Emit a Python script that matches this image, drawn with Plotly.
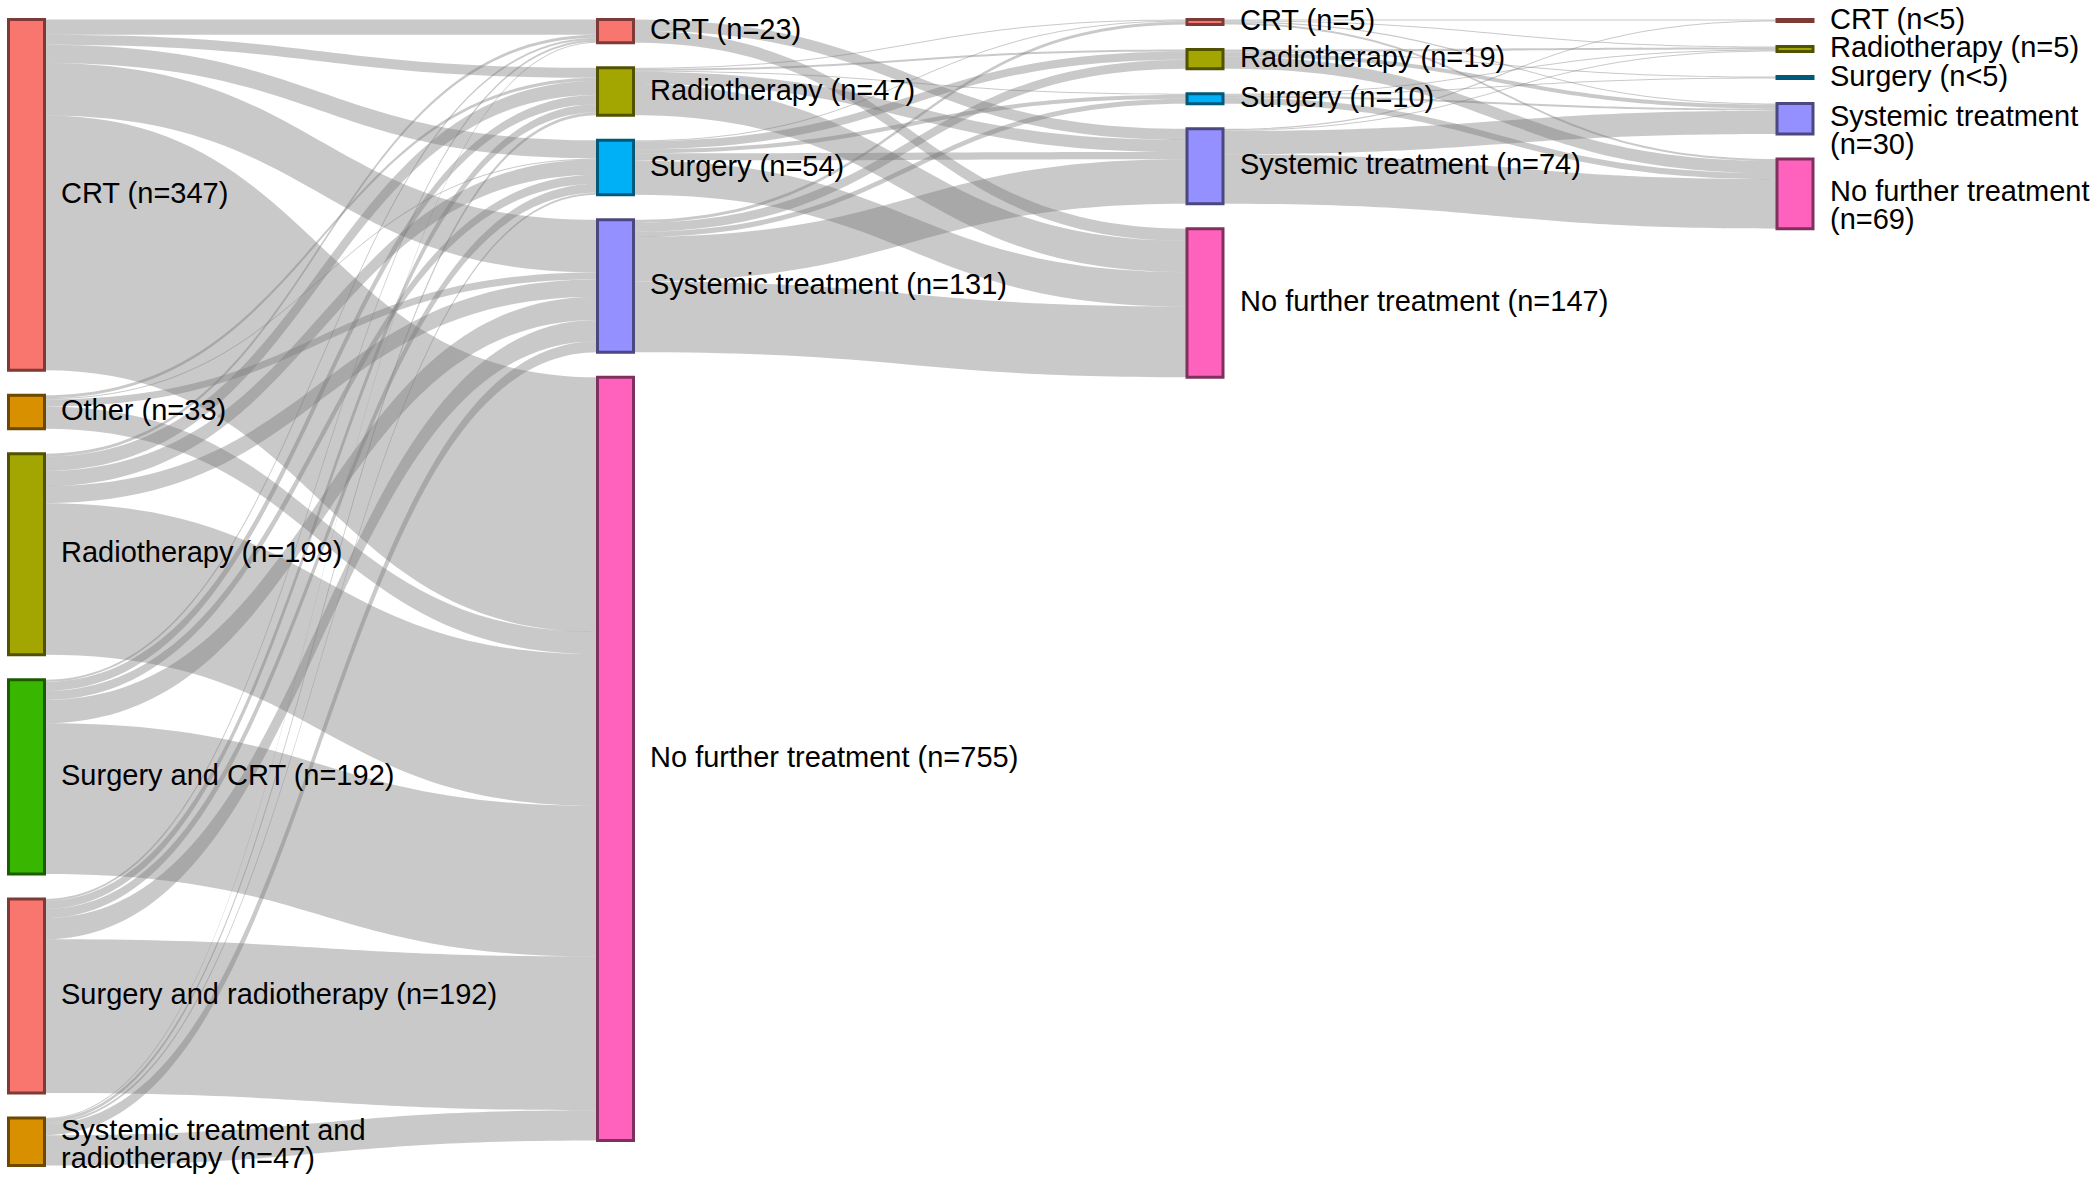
import plotly.graph_objects as go

# ---------------- data ----------------
col1_names = ["CRT", "Other", "Radiotherapy", "Surgery and CRT",
              "Surgery and radiotherapy", "Systemic treatment and radiotherapy"]
col1_labels = ["CRT (n=347)", "Other (n=33)", "Radiotherapy (n=199)", "Surgery and CRT (n=192)",
               "Surgery and radiotherapy (n=192)", "Systemic treatment and<br>radiotherapy (n=47)"]
col1_colors = ["#F8766D", "#D89000", "#A3A500", "#39B600", "#F8766D", "#D89000"]

later_names = ["CRT", "Radiotherapy", "Surgery", "Systemic treatment", "No further treatment"]
later_colors = ["#F8766D", "#A3A500", "#00B0F6", "#9590FF", "#FF62BC"]
col2_labels = ["CRT (n=23)", "Radiotherapy (n=47)", "Surgery (n=54)",
               "Systemic treatment (n=131)", "No further treatment (n=755)"]
col3_labels = ["CRT (n=5)", "Radiotherapy (n=19)", "Surgery (n=10)",
               "Systemic treatment (n=74)", "No further treatment (n=147)"]
col4_labels = ["CRT (n<5)", "Radiotherapy (n=5)", "Surgery (n<5)",
               "Systemic treatment<br>(n=30)", "No further treatment<br>(n=69)"]

# flows: rows = source node of a column, cols = target node of next column
flows_1_2 = [
    [15, 10, 18, 52, 252],
    [0, 3, 1, 7, 22],
    [3, 14, 15, 17, 150],
    [2, 9, 9, 23, 149],
    [2, 8, 9, 21, 152],
    [1, 3, 2, 11, 30],
]
flows_2_3 = [
    [0, 0, 0, 11, 12],
    [1, 2, 1, 12, 31],
    [1, 8, 4, 7, 34],
    [3, 9, 5, 44, 70],
]
flows_3_4 = [
    [1, 1, 0, 1, 2],
    [0, 2, 1, 4, 12],
    [0, 1, 1, 2, 6],
    [1, 1, 0, 23, 49],
]

# ---------------- layout constants ----------------
W, HWIN = 2093, 1182
TOP_PX, DOM_H = 19.5, 1146.0
PAD = 25
THICK = 36
LINE_W = 3
COL_CENTERS = [26.5, 615.5, 1205.0, 1795.0]
FONT = dict(family="Liberation Sans, Arial, sans-serif", size=29, color="black")
LABEL_GAP = 14
HALF_LINE = 14          # half the spacing of two-line labels
TWO_LINE_BASE = [2.5, 0, 0, 11.5]
ONE_LINE_SHIFT = -2


def darker(hexc, f=0.5):
    h = hexc.lstrip("#")
    r, g, b = (int(h[i:i + 2], 16) for i in (0, 2, 4))
    return "rgb(%d,%d,%d)" % (r * f, g * f, b * f)


columns_labels = [col1_labels, col2_labels, col3_labels, col4_labels]
columns_colors = [col1_colors, later_colors, later_colors, later_colors]
flow_sets = [flows_1_2, flows_2_3, flows_3_4]

# node index offsets
offsets = []
o = 0
for labs in columns_labels:
    offsets.append(o)
    o += len(labs)

# node values (max of in / out)
col_values = []
for c, labs in enumerate(columns_labels):
    n = len(labs)
    vin = [0] * n
    vout = [0] * n
    if c > 0:
        for row in flow_sets[c - 1]:
            for j, v in enumerate(row):
                vin[j] += v
    if c < len(flow_sets):
        for i, row in enumerate(flow_sets[c]):
            vout[i] = sum(row)
    col_values.append([max(a, b) for a, b in zip(vin, vout)])

ky = min((DOM_H - (len(v) - 1) * PAD) / sum(v) for v in col_values)

node_x, node_y, node_col = [], [], []
annotations, shapes = [], []
for c, vals in enumerate(col_values):
    y = 0.0
    for i, v in enumerate(vals):
        h = v * ky
        top = y
        center = y + h / 2
        y += h + PAD
        node_x.append(COL_CENTERS[c] / W)
        node_y.append(center / DOM_H)
        col = columns_colors[c][i]
        node_col.append(col)
        # coloured border drawn around the node
        shapes.append(dict(
            type="rect", xref="paper", yref="paper", layer="above",
            x0=(COL_CENTERS[c] - THICK / 2) / W, x1=(COL_CENTERS[c] + THICK / 2) / W,
            y0=1 - (TOP_PX + top) / HWIN, y1=1 - (TOP_PX + top + max(h, 0.5)) / HWIN,
            line=dict(color=darker(col), width=LINE_W), fillcolor="rgba(0,0,0,0)"))
        # label
        lines = columns_labels[c][i].split("<br>")
        x_paper = (COL_CENTERS[c] + THICK / 2 + LINE_W / 2 + LABEL_GAP) / W
        y_abs = TOP_PX + center
        if len(lines) == 1:
            shifts = [ONE_LINE_SHIFT]
        else:
            base = TWO_LINE_BASE[c]
            shifts = [base - HALF_LINE, base + HALF_LINE]
        for line, s in zip(lines, shifts):
            annotations.append(dict(
                x=x_paper, y=1 - (y_abs + s) / HWIN, xref="paper", yref="paper",
                text=line, showarrow=False, xanchor="left", yanchor="middle",
                font=FONT, borderpad=0))

src, tgt, val = [], [], []
for c, fl in enumerate(flow_sets):
    for i, row in enumerate(fl):
        for j, v in enumerate(row):
            if v > 0:
                src.append(offsets[c] + i)
                tgt.append(offsets[c + 1] + j)
                val.append(v)

fig = go.Figure(go.Sankey(
    arrangement="fixed",
    domain=dict(x=[0, 1], y=[1 - (TOP_PX + DOM_H) / HWIN, 1 - TOP_PX / HWIN]),
    node=dict(
        label=[""] * len(node_x),
        x=node_x, y=node_y,
        pad=PAD, thickness=THICK, align="left",
        color=node_col,
        line=dict(color="rgba(0,0,0,0)", width=0),
        hoverinfo="skip",
    ),
    link=dict(source=src, target=tgt, value=val,
              color="rgba(120,120,120,0.4)", hoverinfo="skip"),
))

fig.update_layout(
    width=W, height=HWIN,
    margin=dict(l=0, r=0, t=0, b=0),
    paper_bgcolor="white",
    plot_bgcolor="white",
    annotations=annotations,
    shapes=shapes,
    font=FONT,
)

fig.write_html("out.html", config={"displayModeBar": False},
               post_script="document.body.style.margin='0';document.body.style.overflow='hidden';")
